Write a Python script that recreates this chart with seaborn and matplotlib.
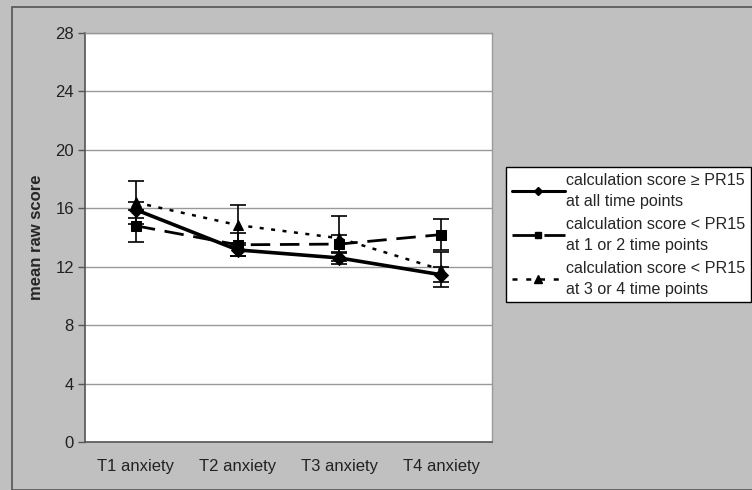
import matplotlib
matplotlib.use("Agg")
import matplotlib.pyplot as plt
import seaborn as sns
import pandas as pd
import numpy as np
from matplotlib.patches import Rectangle
from matplotlib.lines import Line2D

categories = ["T1 anxiety", "T2 anxiety", "T3 anxiety", "T4 anxiety"]
groups = ["calculation score \u2265 PR15\nat all time points",
          "calculation score < PR15\nat 1 or 2 time points",
          "calculation score < PR15\nat 3 or 4 time points"]
means_all = [15.9, 13.15, 12.6, 11.45]
means_12 = [14.8, 13.5, 13.55, 14.2]
means_34 = [16.4, 14.85, 13.95, 11.8]
err_all = [0.55, 0.45, 0.4, 0.5]
err_12 = [1.1, 0.8, 0.6, 1.05]
err_34 = [1.5, 1.35, 1.55, 1.2]
yticks = [0, 4, 8, 12, 16, 20, 24, 28]

sns.set_theme(style="white")
plt.rcParams['font.family'] = ['Liberation Sans', 'DejaVu Sans']

fig = plt.figure(figsize=(7.52, 4.9), dpi=100)
fig.patch.set_facecolor("#c0c0c0")
fig.patches.append(Rectangle((12/752, 0), 1, 1 - 7/490, transform=fig.transFigure,
                             fill=False, edgecolor="#555555", linewidth=1.2, zorder=0))
ax = fig.add_axes([85/752, 1 - 442/490, 407/752, (442 - 33)/490])
ax.set_facecolor("white")

rows = []
for g, m in zip(groups, [means_all, means_12, means_34]):
    for i, v in enumerate(m):
        rows.append({"group": g, "pos": i, "score": v})
df = pd.DataFrame(rows)

dashes = {groups[0]: "", groups[1]: (7, 3.5), groups[2]: (1.6, 3)}
markers = {groups[0]: "D", groups[1]: "s", groups[2]: "^"}
sns.lineplot(data=df, x="pos", y="score", hue="group", style="group",
             palette=["black"] * 3, dashes=dashes, markers=markers,
             markersize=7, markeredgecolor="black", linewidth=2.2,
             legend=False, ax=ax, zorder=3)
for ln, lw in zip(ax.lines, [2.6, 2.0, 1.8]):
    ln.set_linewidth(lw)

for m, e in zip([means_all, means_12, means_34], [err_all, err_12, err_34]):
    ax.errorbar(range(len(m)), m, yerr=e, fmt="none", ecolor="black",
                elinewidth=1.2, capsize=6, capthick=1.2, zorder=2)

ax.set_xlim(-0.5, 3.5)
ax.set_ylim(0, 28)
ax.set_yticks(yticks)
ax.set_yticklabels([str(t) for t in yticks], fontsize=12, color="#222222")
ax.set_xticks(range(4))
ax.set_xticklabels(categories, fontsize=12, color="#222222")
ax.set_xticks([-0.5, 0.5, 1.5, 2.5, 3.5], minor=True)
ax.tick_params(axis="x", which="major", length=0, pad=12)
ax.tick_params(axis="x", which="minor", length=5, width=1, color="#555555", direction="out")
ax.tick_params(axis="y", length=5, width=1, color="#555555", direction="out", pad=3, left=True)
ax.yaxis.grid(True, color="#999999", linewidth=1)
ax.set_axisbelow(True)
for s in ["top", "right"]:
    ax.spines[s].set_color("#999999")
    ax.spines[s].set_linewidth(1)
for s in ["left", "bottom"]:
    ax.spines[s].set_color("#555555")
    ax.spines[s].set_linewidth(1.2)
ax.set_xlabel("")
ax.set_ylabel("mean raw score", fontsize=12, fontweight="bold", labelpad=8)

handles = [
    Line2D([], [], color="black", lw=2.2, marker="D", markersize=4.5),
    Line2D([], [], color="black", lw=2.0, linestyle=(0, (9, 2.5)), marker="s", markersize=5),
    Line2D([], [], color="black", lw=1.8, linestyle=(0, (2, 3.5)), marker="^", markersize=6),
]
leg = fig.legend(handles, groups, loc="upper left",
                 bbox_to_anchor=(506/752, 1 - 167/490), bbox_transform=fig.transFigure,
                 fontsize=11.6, frameon=True, fancybox=False, edgecolor="black",
                 framealpha=1, handlelength=3.3, handletextpad=0.1,
                 labelspacing=0.5, borderpad=0.35, borderaxespad=0)
for t in leg.get_texts():
    t.set_linespacing(1.5)
leg.get_frame().set_linewidth(1.0)

fig.savefig("out.png", dpi=100, facecolor=fig.get_facecolor())
